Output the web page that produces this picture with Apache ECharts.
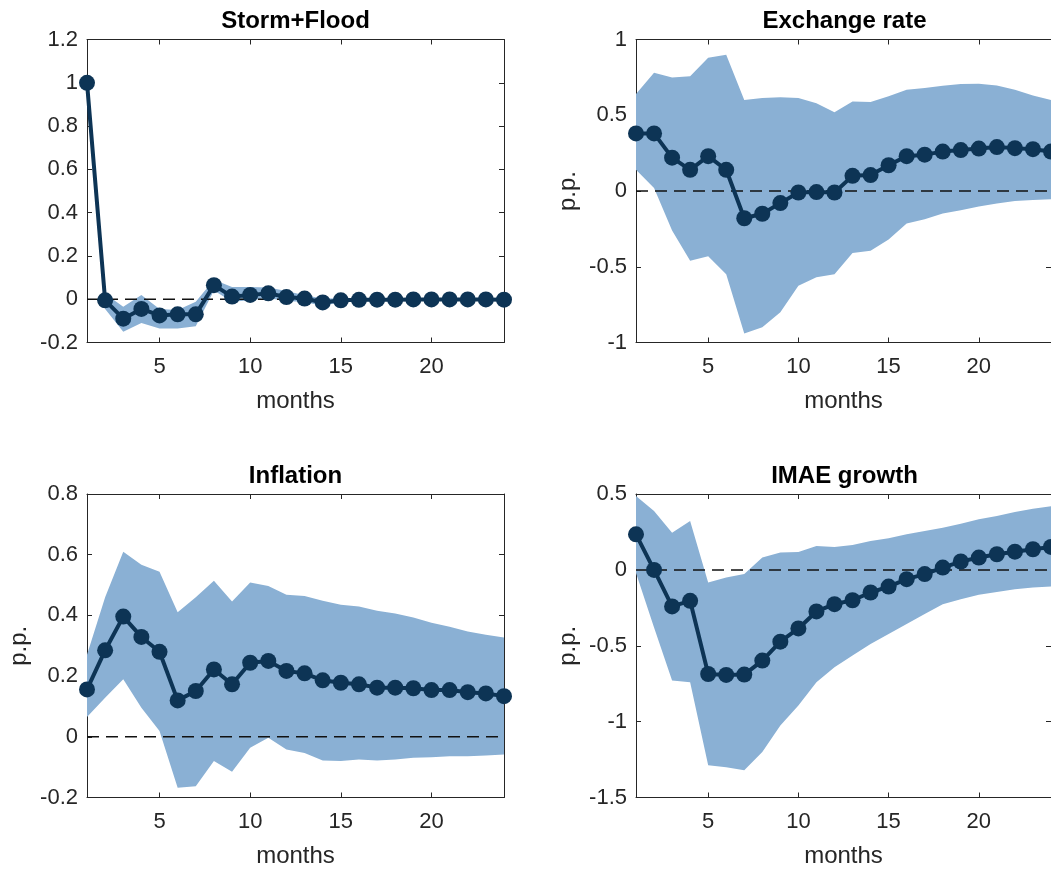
<!DOCTYPE html>
<html>
<head>
<meta charset="utf-8">
<script src="https://cdn.jsdelivr.net/npm/echarts@6/dist/echarts.min.js"></script>
<style>
  html, body { margin: 0; padding: 0; background: #ffffff; }
  #chart { width: 1051px; height: 871px; }
</style>
</head>
<body>
<div id="chart"></div>
<script>
// Impulse responses to a storm+flood shock, with confidence bands
const months = [1,2,3,4,5,6,7,8,9,10,11,12,13,14,15,16,17,18,19,20,21,22,23,24];
const monthTicks = [5, 10, 15, 20];

const stormIrf   = [1.00,-0.005,-0.09,-0.045,-0.075,-0.07,-0.07,0.065,0.012,0.02,0.027,0.01,0.003,-0.015,-0.005,-0.003,-0.002,-0.002,-0.001,-0.001,-0.001,-0.001,-0.001,-0.002];
const stormLower = [1.00,-0.045,-0.15,-0.11,-0.135,-0.135,-0.125,0.04,-0.012,-0.005,0.006,-0.009,-0.012,-0.032,-0.012,-0.01,-0.008,-0.008,-0.007,-0.007,-0.006,-0.006,-0.006,-0.006];
const stormUpper = [1.00,0.025,-0.035,0.02,-0.045,-0.05,-0.012,0.09,0.057,0.057,0.054,0.038,0.018,0.003,0.005,0.004,0.004,0.004,0.004,0.004,0.004,0.004,0.004,0.004];

const fxIrf   = [0.38,0.38,0.22,0.14,0.23,0.14,-0.18,-0.15,-0.08,-0.01,-0.007,-0.01,0.10,0.105,0.17,0.23,0.24,0.26,0.27,0.28,0.29,0.283,0.276,0.26];
const fxLower = [0.14,0.02,-0.26,-0.46,-0.43,-0.55,-0.94,-0.90,-0.80,-0.625,-0.57,-0.55,-0.41,-0.395,-0.32,-0.215,-0.186,-0.149,-0.127,-0.103,-0.083,-0.066,-0.059,-0.055];
const fxUpper = [0.64,0.78,0.75,0.757,0.88,0.90,0.60,0.614,0.618,0.614,0.58,0.52,0.59,0.588,0.625,0.669,0.68,0.695,0.706,0.708,0.697,0.669,0.63,0.60];

const inflIrf   = [0.156,0.285,0.396,0.329,0.28,0.12,0.151,0.222,0.173,0.244,0.25,0.217,0.209,0.186,0.178,0.173,0.162,0.162,0.16,0.154,0.154,0.147,0.143,0.134];
const inflLower = [0.065,0.129,0.19,0.096,0.019,-0.168,-0.163,-0.08,-0.115,-0.036,-0.003,-0.042,-0.053,-0.078,-0.08,-0.075,-0.078,-0.075,-0.069,-0.067,-0.064,-0.064,-0.062,-0.058];
const inflUpper = [0.27,0.46,0.61,0.567,0.544,0.41,0.46,0.514,0.446,0.508,0.497,0.468,0.464,0.448,0.435,0.429,0.415,0.406,0.393,0.376,0.363,0.347,0.336,0.327];

const imaeIrf   = [0.234,0.0,-0.241,-0.204,-0.686,-0.692,-0.69,-0.598,-0.473,-0.386,-0.274,-0.226,-0.2,-0.149,-0.11,-0.061,-0.028,0.015,0.055,0.081,0.103,0.12,0.136,0.151];
const imaeLower = [-0.02,-0.379,-0.729,-0.74,-1.288,-1.30,-1.32,-1.20,-1.025,-0.894,-0.74,-0.642,-0.565,-0.488,-0.423,-0.357,-0.291,-0.226,-0.193,-0.164,-0.145,-0.127,-0.116,-0.11];
const imaeUpper = [0.486,0.388,0.245,0.322,-0.083,-0.05,-0.028,0.081,0.114,0.118,0.158,0.151,0.164,0.19,0.208,0.234,0.256,0.278,0.304,0.333,0.355,0.381,0.403,0.42];

const panelTitles = ['Storm+Flood', 'Exchange rate', 'Inflation', 'IMAE growth'];
const yNames = ['', 'p.p.', 'p.p.', 'p.p.'];
const yMins  = [-0.2, -1, -0.2, -1.5];
const yMaxs  = [1.2, 1, 0.8, 0.5];
const ySteps = [0.2, 0.5, 0.2, 0.5];

const panels = [
  { irf: stormIrf, lower: stormLower, upper: stormUpper },
  { irf: fxIrf,    lower: fxLower,    upper: fxUpper },
  { irf: inflIrf,  lower: inflLower,  upper: inflUpper },
  { irf: imaeIrf,  lower: imaeLower,  upper: imaeUpper }
];

// Subplot boxes (2 x 2)
const boxes = [
  { left: 87,  top: 39.5, width: 417, height: 303 },
  { left: 636, top: 39.5, width: 417, height: 303 },
  { left: 87,  top: 494,  width: 417, height: 303.5 },
  { left: 636, top: 494,  width: 417, height: 303.5 }
];

const FONT = '"Liberation Sans", Arial, Helvetica, sans-serif';
const AXIS_COLOR = '#262626';
const LINE_COLOR = '#0d3455';
const BAND_COLOR = '#8ab0d4';

const grids = [], xAxes = [], yAxes = [], series = [], graphics = [];

const fmtY = v => String(parseFloat(Number(v).toFixed(2)));

// Band polygon: lower edge left-to-right, then upper edge right-to-left
function bandRenderer(lower, upper) {
  return function (params, api) {
    if (params.dataIndex !== 0) return null;
    const pts = [];
    for (let k = 0; k < months.length; k++) pts.push(api.coord([months[k], lower[k]]));
    for (let k = months.length - 1; k >= 0; k--) pts.push(api.coord([months[k], upper[k]]));
    const cs = params.coordSys;
    return {
      type: 'polygon',
      shape: { points: pts },
      style: { fill: BAND_COLOR, stroke: 'none' },
      clipPath: { type: 'rect', shape: { x: cs.x, y: cs.y, width: cs.width, height: cs.height } },
      silent: true
    };
  };
}

panels.forEach((p, i) => {
  const b = boxes[i];
  grids.push({ left: b.left, top: b.top, width: b.width, height: b.height, containLabel: false });

  const xBase = {
    type: 'value', gridIndex: i, min: 1, max: 24,
    splitLine: { show: false },
    axisLine: { show: true, onZero: false, lineStyle: { color: AXIS_COLOR, width: 1 } },
    axisTick: { show: true, inside: true, length: 5, customValues: monthTicks, lineStyle: { color: AXIS_COLOR } }
  };
  xAxes.push(Object.assign({}, xBase, {
    position: 'bottom',
    axisLabel: { show: true, customValues: monthTicks, color: AXIS_COLOR, fontSize: 22, fontFamily: FONT, margin: 13 },
    name: 'months', nameLocation: 'middle', nameGap: 47,
    nameTextStyle: { color: AXIS_COLOR, fontSize: 24, fontFamily: FONT }
  }));
  xAxes.push(Object.assign({}, xBase, {
    position: 'top',
    axisLabel: { show: false }
  }));

  const yBase = {
    type: 'value', gridIndex: i, min: yMins[i], max: yMaxs[i], interval: ySteps[i],
    splitLine: { show: false },
    axisLine: { show: true, onZero: false, lineStyle: { color: AXIS_COLOR, width: 1 } },
    axisTick: { show: true, inside: true, length: 5, lineStyle: { color: AXIS_COLOR } }
  };
  yAxes.push(Object.assign({}, yBase, {
    position: 'left',
    axisLabel: { show: true, color: AXIS_COLOR, fontSize: 22, fontFamily: FONT, margin: 9, formatter: fmtY },
    name: yNames[i], nameLocation: 'middle', nameGap: 56, nameRotate: 90,
    nameTextStyle: { color: AXIS_COLOR, fontSize: 24, fontFamily: FONT }
  }));
  yAxes.push(Object.assign({}, yBase, {
    position: 'right',
    axisLabel: { show: false }
  }));

  const xi = i * 2, yi = i * 2;

  // confidence band
  series.push({
    type: 'custom', xAxisIndex: xi, yAxisIndex: yi,
    data: months.map((m, k) => [m, p.lower[k], p.upper[k]]),
    encode: { x: 0, y: [1, 2] },
    renderItem: bandRenderer(p.lower, p.upper),
    silent: true, z: 1
  });

  // zero reference line
  series.push({
    type: 'line', xAxisIndex: xi, yAxisIndex: yi,
    data: [[months[0], 0], [months[months.length - 1], 0]],
    symbol: 'none', silent: true, z: 2,
    lineStyle: { color: '#111111', width: 1.5, type: [12, 7] }
  });

  // point estimate
  series.push({
    type: 'line', xAxisIndex: xi, yAxisIndex: yi,
    data: months.map((m, k) => [m, p.irf[k]]),
    symbol: 'circle', symbolSize: 16, showAllSymbol: true,
    lineStyle: { color: LINE_COLOR, width: 4 },
    itemStyle: { color: LINE_COLOR, borderWidth: 0 },
    clip: false, z: 3
  });

  graphics.push({
    type: 'text', x: b.left + b.width / 2, y: (i < 2 ? 21 : 476),
    style: {
      text: panelTitles[i], fill: '#000000',
      font: 'bold 24px ' + FONT,
      align: 'center', verticalAlign: 'middle'
    }
  });
});

const chart = echarts.init(document.getElementById('chart'), null, { renderer: 'canvas' });
chart.setOption({
  animation: false,
  backgroundColor: '#ffffff',
  grid: grids,
  xAxis: xAxes,
  yAxis: yAxes,
  series: series,
  graphic: graphics
});
</script>
</body>
</html>
